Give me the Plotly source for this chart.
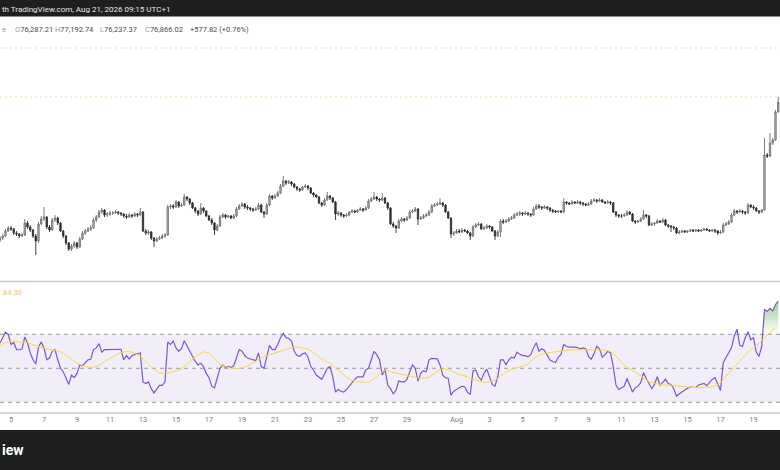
import pandas as pd
import plotly.graph_objects as go

W, H = 780, 470

# 4h candles
candle_start = "2026-07-04 08:00"
first_open = 68600
closes = [
    68720, 68840, 69140, 69320, 69260, 69020, 68960, 68840, 68900, 69620,
    69380, 69200, 68840, 68540, 69560, 69860, 69980, 69380, 69200, 69800,
    69920, 69620, 69140, 68840, 68420, 68060, 68240, 68420, 68180, 68660,
    69020, 69140, 69260, 69320, 69800, 69980, 70280, 70400, 70100, 70160,
    70220, 70220, 70280, 70220, 70160, 70040, 69980, 70100, 70040, 70160,
    70100, 70280, 69140, 69020, 69080, 68720, 68540, 68660, 68720, 68840,
    68900, 70580, 70640, 70580, 70880, 70640, 70700, 71180, 71060, 70820,
    70520, 70340, 70160, 70520, 70340, 70040, 69800, 69620, 69200, 69440,
    69980, 70100, 69980, 70040, 69920, 70040, 70460, 70640, 70760, 70580,
    70520, 70460, 70400, 70460, 70700, 70280, 70160, 70700, 71240, 71120,
    71240, 71420, 71840, 72140, 72020, 72080, 71960, 71780, 71660, 71600,
    71780, 71840, 71720, 71420, 71300, 71180, 70820, 70700, 71000, 71240,
    71120, 70880, 70160, 70220, 70100, 70040, 70100, 70280, 70340, 70280,
    70400, 70460, 70400, 70520, 70940, 71060, 71180, 71060, 71000, 71120,
    70820, 70520, 69560, 69440, 69320, 69740, 69860, 69800, 69920, 70280,
    70340, 70460, 69860, 69920, 70040, 70100, 70280, 70640, 70700, 70760,
    70820, 70700, 70280, 69920, 68960, 69020, 69140, 69080, 69200, 69140,
    69020, 68840, 69380, 69500, 69560, 69260, 69320, 69440, 69380, 69140,
    68840, 69080, 69740, 69680, 69740, 69860, 69920, 70100, 70160, 70220,
    70160, 70220, 70160, 70100, 70460, 70640, 70580, 70520, 70580, 70520,
    70400, 70340, 70280, 70340, 70280, 70880, 70820, 70760, 70880, 70820,
    70880, 70820, 70760, 70700, 70760, 70940, 71000, 70940, 71000, 70880,
    70820, 70880, 70820, 70280, 70100, 70040, 70040, 70100, 70280, 70160,
    69740, 69680, 69740, 69860, 70100, 70040, 69500, 69560, 69620, 69740,
    69680, 69800, 69500, 69440, 69380, 69320, 69020, 69080, 69140, 69080,
    69140, 69200, 69140, 69200, 69140, 69200, 69260, 69200, 69140, 69200,
    69140, 69020, 69080, 69500, 69560, 69680, 70100, 70340, 70280, 70340,
    70280, 70220, 70700, 70580, 70520, 70340, 70280, 70400, 73700, 73640,
    74420, 74600, 76287.21, 76866.02,
]
highs = [
    68840, 68960, 69260, 69440, 69440, 69320, 69140, 69020, 69020, 69860,
    69740, 69500, 69260, 68960, 69680, 70040, 70580, 70040, 69500, 69920,
    70100, 69980, 69680, 69200, 68900, 68480, 68360, 68540, 68480, 68780,
    69140, 69260, 69380, 69500, 69920, 70100, 70400, 70520, 70460, 70280,
    70340, 70340, 70400, 70340, 70280, 70220, 70160, 70220, 70160, 70280,
    70220, 70520, 70340, 69260, 69200, 69140, 68780, 68780, 68840, 68960,
    69020, 70700, 70760, 70760, 71000, 70940, 70820, 71360, 71240, 71120,
    70880, 70580, 70400, 70820, 70580, 70400, 70100, 69920, 69680, 69560,
    70100, 70220, 70160, 70100, 70100, 70160, 70580, 70760, 70880, 70820,
    70700, 70580, 70520, 70580, 70820, 70760, 70340, 70820, 71360, 71300,
    71360, 71540, 71960, 72440, 72200, 72200, 72140, 72020, 71840, 71720,
    71840, 71960, 71900, 71780, 71480, 71360, 71240, 70880, 71120, 71480,
    71300, 71180, 70940, 70340, 70280, 70160, 70220, 70340, 70460, 70400,
    70460, 70580, 70520, 70640, 71060, 71180, 71480, 71240, 71120, 71420,
    71180, 70880, 70580, 69680, 69500, 69860, 69980, 69920, 70040, 70400,
    70460, 70580, 70520, 70040, 70160, 70220, 70400, 70760, 70820, 70880,
    71120, 70880, 70760, 70340, 69980, 69140, 69260, 69260, 69320, 69260,
    69200, 69080, 69500, 69620, 69680, 69620, 69440, 69560, 69500, 69440,
    69200, 69200, 69860, 69860, 69860, 69980, 70040, 70220, 70280, 70340,
    70280, 70340, 70280, 70220, 70580, 70760, 70760, 70640, 70700, 70640,
    70580, 70460, 70400, 70400, 70400, 71120, 70940, 70880, 71000, 70940,
    71000, 70940, 70880, 70820, 70880, 71060, 71120, 71060, 71120, 71060,
    70940, 71000, 70940, 70880, 70340, 70160, 70160, 70220, 70400, 70340,
    70220, 69800, 69800, 69980, 70400, 70160, 70100, 69680, 69680, 69860,
    69800, 69920, 69860, 69560, 69500, 69440, 69380, 69200, 69200, 69200,
    69200, 69260, 69260, 69260, 69260, 69260, 69320, 69320, 69260, 69260,
    69260, 69200, 69200, 69620, 69680, 69800, 70220, 70460, 70400, 70460,
    70400, 70340, 70820, 70760, 70700, 70580, 70400, 70460, 74720, 73820,
    75020, 74720, 76400, 77192.74,
]
lows = [
    68480, 68600, 68780, 69080, 69140, 68900, 68840, 68720, 68780, 68840,
    69260, 69080, 68720, 67700, 68420, 69500, 69740, 69260, 69080, 69140,
    69680, 69500, 69080, 68720, 68300, 67940, 67940, 68120, 68060, 68120,
    68600, 68900, 69080, 69140, 69260, 69680, 69920, 70160, 69980, 69980,
    70040, 70100, 70160, 70100, 70040, 69920, 69860, 69920, 69920, 69980,
    69980, 70040, 69080, 68900, 68900, 68600, 68180, 68480, 68600, 68660,
    68720, 68840, 70460, 70460, 70520, 70520, 70580, 70640, 70940, 70700,
    70460, 70220, 70040, 70100, 70220, 69980, 69740, 69500, 68900, 69140,
    69380, 69920, 69860, 69920, 69860, 69860, 69980, 70400, 70580, 70460,
    70400, 70340, 70280, 70340, 70400, 70220, 69920, 70100, 70640, 71000,
    71060, 71180, 71360, 71780, 71900, 71960, 71840, 71720, 71540, 71480,
    71540, 71720, 71600, 71360, 71180, 71120, 70760, 70580, 70640, 70940,
    71000, 70820, 69800, 70040, 69980, 69920, 69980, 70040, 70220, 70220,
    70220, 70340, 70280, 70340, 70460, 70880, 71000, 70940, 70880, 70940,
    70760, 70400, 69500, 69320, 69020, 69260, 69680, 69680, 69740, 69860,
    70220, 70280, 69500, 69800, 69860, 69980, 70040, 70220, 70580, 70640,
    70700, 70580, 70220, 69860, 68720, 68840, 68960, 69020, 69020, 69080,
    68960, 68600, 68780, 69320, 69440, 69200, 69200, 69260, 69260, 69080,
    68600, 68780, 68780, 69560, 69620, 69680, 69800, 69860, 70040, 70040,
    70040, 70100, 70040, 69980, 70040, 70400, 70460, 70400, 70460, 70400,
    70280, 70220, 70220, 70220, 70220, 70220, 70700, 70700, 70700, 70760,
    70760, 70700, 70640, 70640, 70640, 70700, 70880, 70820, 70880, 70820,
    70760, 70760, 70700, 70220, 69980, 69920, 69920, 69980, 70040, 70100,
    69680, 69560, 69620, 69680, 69800, 69920, 69440, 69440, 69440, 69560,
    69620, 69620, 69440, 69320, 69080, 69200, 68960, 68960, 69020, 69020,
    69020, 69080, 69080, 69080, 69080, 69080, 69140, 69140, 69080, 69080,
    69020, 68900, 68960, 69020, 69440, 69500, 69620, 70040, 70160, 70220,
    70160, 70100, 70160, 70520, 70400, 70280, 70160, 70220, 70340, 73520,
    73580, 74300, 74540, 76237.37,
]

# RSI(14) per candle and its moving average (read every second candle)
rsi = [
    64.9, 68.0, 71.2, 69.8, 64.0, 65.2, 61.0, 60.9, 61.3, 68.4,
    65.0, 59.0, 55.0, 52.5, 62.5, 65.4, 62.0, 55.0, 56.0, 60.0,
    61.0, 55.0, 50.0, 48.0, 44.0, 40.5, 46.0, 44.5, 47.0, 52.0,
    51.5, 53.0, 55.0, 55.3, 61.0, 62.0, 64.5, 59.5, 61.0, 61.0,
    61.0, 61.0, 61.0, 61.0, 61.2, 55.0, 57.5, 55.5, 57.5, 58.0,
    58.5, 59.0, 42.0, 41.0, 42.0, 38.0, 35.5, 37.5, 40.0, 40.0,
    42.0, 65.5, 64.0, 66.0, 62.0, 60.0, 61.5, 66.2, 63.0, 60.0,
    56.5, 54.0, 52.0, 53.0, 51.0, 47.0, 44.5, 39.5, 38.5, 44.5,
    50.0, 52.0, 50.5, 51.0, 50.5, 51.5, 57.0, 61.0, 60.0, 57.5,
    56.0, 55.5, 55.3, 54.5, 59.0, 51.0, 50.0, 57.0, 63.5, 61.0,
    61.0, 64.0, 68.0, 70.5, 68.0, 67.5, 66.0, 60.0, 57.5, 57.0,
    58.5, 59.0, 56.5, 51.0, 49.0, 46.0, 44.5, 43.5, 46.5, 50.0,
    51.0, 45.0, 36.0, 37.5, 36.5, 36.0, 37.5, 39.5, 42.0, 43.5,
    45.0, 45.2, 45.0, 49.0, 50.0, 55.0, 60.0, 58.0, 55.0, 46.0,
    49.5, 40.0, 38.0, 35.0, 37.0, 42.5, 42.0, 42.0, 43.5, 48.0,
    52.0, 50.0, 42.5, 47.0, 48.6, 48.0, 55.0, 55.8, 55.8, 55.5,
    52.0, 46.0, 44.5, 44.0, 34.2, 36.5, 37.5, 38.5, 39.5, 39.0,
    36.0, 34.5, 48.5, 49.0, 45.0, 43.0, 47.0, 49.5, 45.5, 40.5,
    39.5, 45.0, 55.0, 55.0, 52.0, 55.0, 56.5, 56.0, 59.5, 58.2,
    57.5, 57.4, 56.8, 58.0, 62.0, 65.0, 60.0, 61.5, 60.5, 57.3,
    54.8, 54.0, 53.4, 56.5, 58.2, 64.0, 62.8, 62.5, 62.6, 62.5,
    62.2, 61.5, 62.0, 61.5, 57.0, 55.3, 58.5, 63.0, 61.5, 56.5,
    58.0, 60.0, 59.0, 51.0, 40.0, 37.5, 38.5, 39.5, 44.0, 40.0,
    36.0, 38.5, 39.5, 41.5, 47.5, 44.0, 40.5, 38.0, 40.5, 45.0,
    40.0, 41.5, 43.5, 41.0, 40.5, 38.0, 33.6, 35.0, 36.1, 37.5,
    38.2, 39.0, 38.8, 38.7, 40.2, 40.8, 41.1, 39.8, 41.5, 43.5,
    44.5, 40.5, 37.0, 53.5, 56.5, 59.0, 62.0, 69.0, 73.0, 63.5,
    62.8, 68.0, 71.5, 66.8, 68.0, 59.5, 57.0, 63.0, 84.5, 83.5,
    85.2, 83.8, 87.5, 89.5,
]
rsi_ma = [
    63.3, 65.2, 65.8, 65.8, 65.4, 64.9, 63.9, 62.9, 61.9, 60.9,
    60.5, 59.7, 57.7, 55.3, 53.0, 51.6, 50.6, 50.6, 51.8, 53.8,
    55.9, 57.7, 59.3, 59.9, 59.5, 57.9, 55.7, 52.6, 49.4, 47.0,
    47.0, 47.4, 48.4, 49.8, 52.4, 55.0, 57.9, 59.7, 58.9, 55.5,
    52.4, 51.0, 50.0, 49.8, 50.2, 51.4, 53.0, 55.3, 56.9, 57.9,
    58.9, 59.9, 60.9, 62.1, 62.5, 62.1, 61.3, 59.3, 56.5, 54.6,
    53.0, 50.4, 47.4, 44.7, 42.9, 42.1, 41.9, 41.5, 43.9, 46.6,
    49.0, 48.0, 47.2, 46.4, 45.8, 45.0, 44.3, 44.1, 44.7, 47.0,
    49.4, 49.6, 48.6, 47.0, 46.0, 45.0, 43.5, 42.5, 41.7, 41.9,
    42.9, 45.4, 47.8, 49.4, 50.2, 51.2, 52.4, 55.7, 57.7, 58.9,
    59.3, 59.5, 60.1, 60.5, 60.9, 60.9, 60.9, 60.9, 60.9, 60.9,
    60.7, 59.9, 57.3, 53.4, 50.6, 49.0, 46.6, 44.1, 42.1, 41.1,
    40.5, 40.1, 40.1, 39.7, 39.1, 38.9, 38.7, 38.7, 38.7, 38.9,
    39.5, 41.5, 45.4, 49.0, 52.5, 56.0, 59.5, 62.0, 64.5, 68.0,
    71.0, 74.0,
]
rsi_levels = [70, 50, 30]
price_lines = [80120, 77192.74]

tick_days = ["2026-07-%02d" % d for d in range(5, 30, 2)] + ["2026-08-01"] + \
            ["2026-08-%02d" % d for d in range(3, 20, 2)]
tick_text = [str(d) for d in range(5, 30, 2)] + ["Aug"] + [str(d) for d in range(3, 20, 2)]

times = pd.date_range(candle_start, periods=len(closes), freq="4h")
opens = [first_open] + closes[:-1]
over = [max(v, 70) for v in rsi]

x_range = ["2026-07-04 08:00", "2026-08-20 14:33"]
FONT = "Roboto"


def py(px):
    return 1 - px / H


fig = go.Figure()
fig.add_trace(go.Candlestick(
    x=times, open=opens, high=highs, low=lows, close=closes,
    increasing=dict(line=dict(color="#6e6e6e", width=0.9), fillcolor="#c2c2c2"),
    decreasing=dict(line=dict(color="#2f2f2f", width=0.9), fillcolor="#2f2f2f"),
    whiskerwidth=0, hoverinfo="skip", showlegend=False, xaxis="x", yaxis="y"))

fig.add_trace(go.Scatter(x=times, y=[70] * len(times), mode="lines",
                         line=dict(width=0), showlegend=False, hoverinfo="skip",
                         xaxis="x2", yaxis="y2"))
fig.add_trace(go.Scatter(x=times, y=over, mode="lines", line=dict(width=0),
                         fill="tonexty",
                         fillgradient=dict(type="vertical", start=70, stop=92,
                                           colorscale=[[0, "rgba(76,175,80,0)"],
                                                       [1, "rgba(76,175,80,0.65)"]]),
                         showlegend=False, hoverinfo="skip", xaxis="x2", yaxis="y2"))
fig.add_trace(go.Scatter(x=times, y=rsi, mode="lines",
                         line=dict(color="#7e57c2", width=1.2),
                         showlegend=False, hoverinfo="skip", xaxis="x2", yaxis="y2"))
fig.add_trace(go.Scatter(x=times[::2], y=rsi_ma, mode="lines",
                         line=dict(color="#fdd835", width=1),
                         showlegend=False, hoverinfo="skip", xaxis="x2", yaxis="y2"))

shapes = [
    dict(type="rect", xref="paper", yref="y2", x0=0, x1=1, y0=30, y1=70,
         fillcolor="rgba(126,87,194,0.1)", line=dict(width=0), layer="below"),
]
for lv in rsi_levels:
    shapes.append(dict(type="line", xref="paper", yref="y2", x0=0, x1=1, y0=lv, y1=lv,
                       line=dict(color="#9598a1", width=1, dash="4px,4px"), layer="below"))
shapes.append(dict(type="line", xref="paper", yref="y", x0=0, x1=1,
                   y0=price_lines[0], y1=price_lines[0],
                   line=dict(color="#d6d6d6", width=1, dash="2px,3px"), layer="below"))
shapes.append(dict(type="line", xref="paper", yref="y", x0=0, x1=1,
                   y0=price_lines[1], y1=price_lines[1],
                   line=dict(color="#f3e3a6", width=1, dash="2px,3px"), layer="below"))
# pane separators, header and footer bars
for sep in (281.5, 413):
    shapes.append(dict(type="line", xref="paper", yref="paper", x0=0, x1=1,
                       y0=py(sep), y1=py(sep), line=dict(color="#c9c9c9", width=1.5)))
shapes.append(dict(type="rect", xref="paper", yref="paper", x0=0, x1=1,
                   y0=py(16.5), y1=1, fillcolor="#1f1f1f", line=dict(width=0)))
shapes.append(dict(type="rect", xref="paper", yref="paper", x0=0, x1=1,
                   y0=0, y1=py(430), fillcolor="#1f1f1f", line=dict(width=0)))

LBL = "#9a9a9a"
VAL = "#4a4a4a"
ann = [
    dict(text="th TradingView.com, Aug 21, 2026 09:15 UTC+1", x=0, y=py(9.5),
         font=dict(family=FONT, size=8, color="#e6e6e6")),
    dict(text="e", x=0, y=py(29), font=dict(family=FONT, size=7.5, color=LBL)),
    dict(text="<span style='color:%s'>O</span>76,287.21" % LBL, x=13 / W, y=py(29),
         font=dict(family=FONT, size=7.5, color=VAL)),
    dict(text="<span style='color:%s'>H</span>77,192.74" % LBL, x=53 / W, y=py(29),
         font=dict(family=FONT, size=7.5, color=VAL)),
    dict(text="<span style='color:%s'>L</span>76,237.37" % LBL, x=98 / W, y=py(29),
         font=dict(family=FONT, size=7.5, color=VAL)),
    dict(text="<span style='color:%s'>C</span>76,866.02" % LBL, x=143 / W, y=py(29),
         font=dict(family=FONT, size=7.5, color=VAL)),
    dict(text="+577.82 (+0.76%)", x=188 / W, y=py(29),
         font=dict(family=FONT, size=7.5, color=VAL)),
    dict(text="84.30", x=1 / W, y=py(292), font=dict(family=FONT, size=7.5, color="#f2c94c")),
    dict(text="<b>iew</b>", x=0, y=py(450), font=dict(family=FONT, size=14, color="#ffffff")),
]
for a in ann:
    a.update(xref="paper", yref="paper", xanchor="left", yanchor="middle", showarrow=False)

fig.update_layout(
    width=W, height=H, margin=dict(l=0, r=0, t=0, b=0),
    paper_bgcolor="white", plot_bgcolor="white",
    showlegend=False, hovermode=False,
    xaxis=dict(domain=[0, 1], range=x_range, anchor="y", showticklabels=False,
               showgrid=False, zeroline=False, showline=False, rangeslider=dict(visible=False)),
    yaxis=dict(domain=[py(281), py(17)], range=[83000 - 60 * 281, 83000 - 60 * 17],
               visible=False, showgrid=False, zeroline=False),
    xaxis2=dict(domain=[0, 1], range=x_range, anchor="y2", matches="x",
                tickvals=tick_days, ticktext=tick_text, ticks="",
                tickfont=dict(family=FONT, size=7.5, color="#7b7e88"),
                showgrid=False, zeroline=False, showline=False),
    yaxis2=dict(domain=[py(413), py(282)], range=[23.7, 100.76],
                visible=False, showgrid=False, zeroline=False),
    shapes=shapes, annotations=ann,
)

# the page's default 8px body margin would push the figure off the window
fig.write_html("out.html", config={"displayModeBar": False},
               post_script="document.body.style.margin = '0';")
